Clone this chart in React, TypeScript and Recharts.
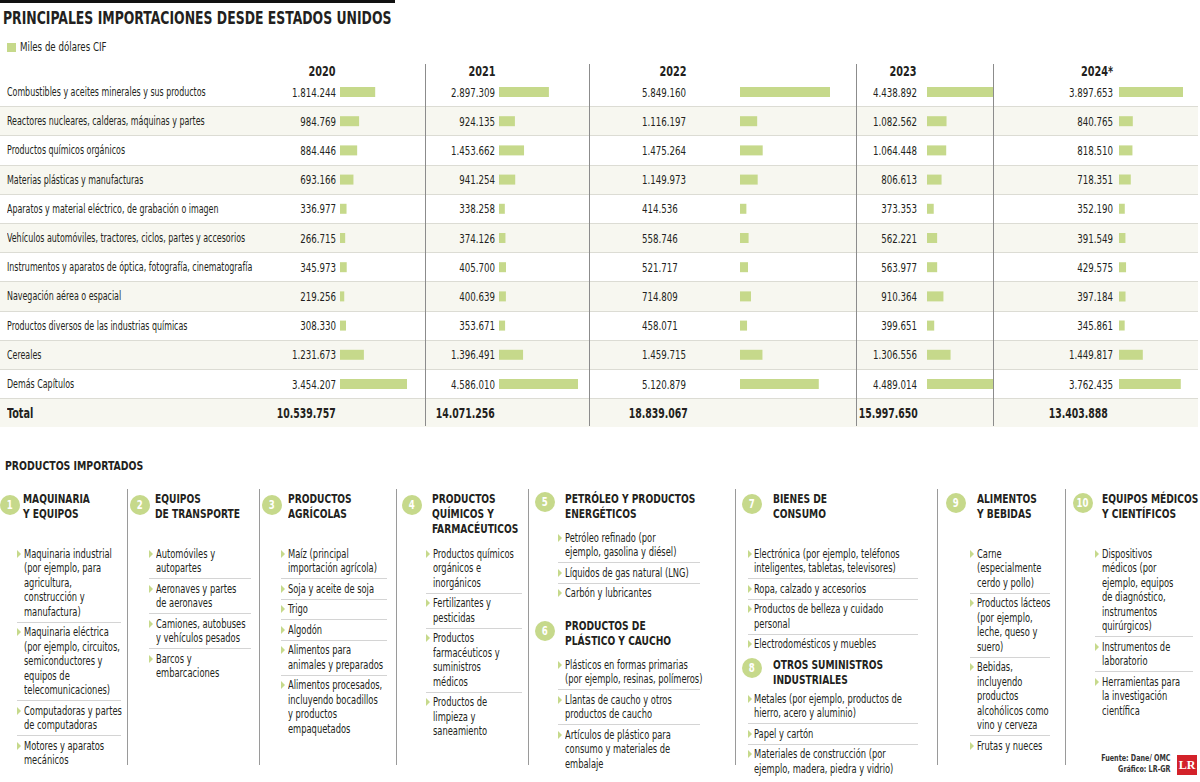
import React from "react"
import { Bar, BarChart, XAxis, YAxis, LabelList } from "recharts"

const FONT = "'Liberation Sans Narrow', 'DejaVu Sans Condensed', sans-serif"
const GREEN = "#c6d98b"
const INK = "#231f20"
const SX = 0.77 // squeeze to mimic the condensed face of the original

// table data (miles de dólares CIF)
const rowNames = [
  "Combustibles y aceites minerales y sus productos",
  "Reactores nucleares, calderas, máquinas y partes",
  "Productos químicos orgánicos",
  "Materias plásticas y manufacturas",
  "Aparatos y material eléctrico, de grabación o imagen",
  "Vehículos automóviles, tractores, ciclos, partes y accesorios",
  "Instrumentos y aparatos de óptica, fotografía, cinematografía",
  "Navegación aérea o espacial",
  "Productos diversos de las industrias químicas",
  "Cereales",
  "Demás Capítulos",
]
const years = ["2020", "2021", "2022", "2023", "2024*"]
const v2020 = [1814244, 984769, 884446, 693166, 336977, 266715, 345973, 219256, 308330, 1231673, 3454207]
const v2021 = [2897309, 924135, 1453662, 941254, 338258, 374126, 405700, 400639, 353671, 1396491, 4586010]
const v2022 = [5849160, 1116197, 1475264, 1149973, 414536, 558746, 521717, 714809, 458071, 1459715, 5120879]
const v2023 = [4438892, 1082562, 1064448, 806613, 373353, 562221, 563977, 910364, 399651, 1306556, 4489014]
const v2024 = [3897653, 840765, 818510, 718351, 352190, 391549, 429575, 397184, 345861, 1449817, 3762435]
const totals = [10539757, 14071256, 18839067, 15997650, 13403888]
const series = [v2020, v2021, v2022, v2023, v2024]

// productos importados
const groupNums = [1, 2, 3, 4, 5, 6, 7, 8, 9, 10]
const groupTitles = [
  "MAQUINARIA\nY EQUIPOS",
  "EQUIPOS\nDE TRANSPORTE",
  "PRODUCTOS\nAGRÍCOLAS",
  "PRODUCTOS\nQUÍMICOS Y\nFARMACÉUTICOS",
  "PETRÓLEO Y PRODUCTOS\nENERGÉTICOS",
  "PRODUCTOS DE\nPLÁSTICO Y CAUCHO",
  "BIENES DE\nCONSUMO",
  "OTROS SUMINISTROS\nINDUSTRIALES",
  "ALIMENTOS\nY BEBIDAS",
  "EQUIPOS MÉDICOS\nY CIENTÍFICOS",
]
const groupItems = [
  [
    "Maquinaria industrial\n(por ejemplo, para\nagricultura,\nconstrucción y\nmanufactura)",
    "Maquinaria eléctrica\n(por ejemplo, circuitos,\nsemiconductores y\nequipos de\ntelecomunicaciones)",
    "Computadoras y partes\nde computadoras",
    "Motores y aparatos\nmecánicos",
  ],
  ["Automóviles y\nautopartes", "Aeronaves y partes\nde aeronaves", "Camiones, autobuses\ny vehículos pesados", "Barcos y\nembarcaciones"],
  [
    "Maíz (principal\nimportación agrícola)",
    "Soja y aceite de soja",
    "Trigo",
    "Algodón",
    "Alimentos para\nanimales y preparados",
    "Alimentos procesados,\nincluyendo bocadillos\ny productos\nempaquetados",
  ],
  [
    "Productos químicos\norgánicos e\ninorgánicos",
    "Fertilizantes y\npesticidas",
    "Productos\nfarmacéuticos y\nsuministros\nmédicos",
    "Productos de\nlimpieza y\nsaneamiento",
  ],
  ["Petróleo refinado (por\nejemplo, gasolina y diésel)", "Líquidos de gas natural (LNG)", "Carbón y lubricantes"],
  [
    "Plásticos en formas primarias\n(por ejemplo, resinas, polímeros)",
    "Llantas de caucho y otros\nproductos de caucho",
    "Artículos de plástico para\nconsumo y materiales de\nembalaje",
  ],
  [
    "Electrónica (por ejemplo, teléfonos\ninteligentes, tabletas, televisores)",
    "Ropa, calzado y accesorios",
    "Productos de belleza y cuidado\npersonal",
    "Electrodomésticos y muebles",
  ],
  [
    "Metales (por ejemplo, productos de\nhierro, acero y aluminio)",
    "Papel y cartón",
    "Materiales de construcción (por\nejemplo, madera, piedra y vidrio)",
  ],
  [
    "Carne\n(especialmente\ncerdo y pollo)",
    "Productos lácteos\n(por ejemplo,\nleche, queso y\nsuero)",
    "Bebidas,\nincluyendo\nproductos\nalcohólicos como\nvino y cerveza",
    "Frutas y nueces",
  ],
  [
    "Dispositivos\nmédicos (por\nejemplo, equipos\nde diagnóstico,\ninstrumentos\nquirúrgicos)",
    "Instrumentos de\nlaboratorio",
    "Herramientas para\nla investigación\ncientífica",
  ],
]

// layout
const TOP = 77
const ROW_H = 29.2
const colLayout = [
  { left: 230, width: 195, barX: 340, plotW: 67, gap: 4, labelStart: 0, head: 322, totalEnd: 336 },
  { left: 425, width: 164, barX: 499, plotW: 79, gap: 4, labelStart: 0, head: 482, totalEnd: 495 },
  { left: 589, width: 267, barX: 740, plotW: 90, gap: 0, labelStart: 642, head: 673, totalEnd: 688 },
  { left: 856, width: 137, barX: 927, plotW: 81, gap: 10, labelStart: 0, head: 903, totalEnd: 918 },
  { left: 993, width: 205, barX: 1119, plotW: 64, gap: 6, labelStart: 0, head: 1097, totalEnd: 1108 },
]
const groupLayout = [
  { cx: 10, cy: 505, tx: 23, ty: 491, lx: 17, ly: 544, lw: 104 },
  { cx: 140, cy: 505, tx: 155, ty: 491, lx: 149, ly: 544, lw: 102 },
  { cx: 272, cy: 505, tx: 288, ty: 491, lx: 281, ly: 544, lw: 106 },
  { cx: 412, cy: 505, tx: 432, ty: 491, lx: 426, ly: 544, lw: 96 },
  { cx: 545, cy: 502, tx: 565, ty: 491, lx: 558, ly: 528, lw: 142 },
  { cx: 545, cy: 631, tx: 565, ty: 618, lx: 558, ly: 655, lw: 142 },
  { cx: 752, cy: 504, tx: 773, ty: 491, lx: 748, ly: 544, lw: 170 },
  { cx: 752, cy: 668, tx: 773, ty: 657, lx: 748, ly: 689, lw: 170 },
  { cx: 956, cy: 503, tx: 977, ty: 491, lx: 970, ly: 544, lw: 80 },
  { cx: 1083, cy: 503, tx: 1102, ty: 491, lx: 1095, ly: 544, lw: 98 },
]
const dividersX = [127, 259, 396, 528, 735, 937, 1065]

const fmt = (n: number) => String(n).replace(/\B(?=(\d{3})+(?!\d))/g, ".")

function Sq({ children, origin = "left", s = SX }: { children: React.ReactNode; origin?: string; s?: number }) {
  return (
    <span style={{ display: "inline-block", transform: `scaleX(${s})`, transformOrigin: origin, whiteSpace: "pre" }}>
      {children}
    </span>
  )
}

function YearChart({ idx }: { idx: number }) {
  const c = colLayout[idx]
  const data = rowNames.map((name, i) => ({ name, value: series[idx][i] }))
  const ml = c.barX - c.left
  return (
    <div style={{ position: "absolute", left: c.left, top: TOP }}>
      <BarChart
        width={c.width}
        height={ROW_H * rowNames.length}
        data={data}
        layout="vertical"
        margin={{ top: 0, bottom: 0, left: ml, right: c.width - ml - c.plotW }}
      >
        <XAxis type="number" hide domain={[0, "dataMax"]} />
        <YAxis type="category" dataKey="name" hide />
        <Bar dataKey="value" fill={GREEN} barSize={10} isAnimationActive={false}>
          <LabelList
            dataKey="value"
            content={(p: any) => {
              const tx = c.labelStart ? c.labelStart - c.left : p.x - c.gap
              const ty = p.y + p.height / 2
              return (
                <text
                  transform={`translate(${tx} ${ty}) scale(${SX} 1)`}
                  x={0}
                  y={0}
                  dy="0.36em"
                  textAnchor={c.labelStart ? "start" : "end"}
                  fontFamily={FONT}
                  fontSize={12.5}
                  fill={INK}
                >
                  {fmt(p.value)}
                </text>
              )
            }}
          />
        </Bar>
      </BarChart>
    </div>
  )
}

const abs = (s: React.CSSProperties): React.CSSProperties => ({ position: "absolute", ...s })

export default function App() {
  const totalTop = TOP + ROW_H * rowNames.length
  return (
    <div
      style={{
        position: "absolute",
        left: 0,
        top: 0,
        width: 1200,
        height: 782,
        background: "#fff",
        fontFamily: FONT,
        color: INK,
        overflow: "hidden",
      }}
    >
      <div style={abs({ left: 0, top: 0, width: 395, height: 3, background: "#111" })} />
      <div style={abs({ left: 3, top: 8, fontSize: 17.5, fontWeight: 700, lineHeight: "20px", whiteSpace: "nowrap" })}>
        <Sq s={0.79}>PRINCIPALES IMPORTACIONES DESDE ESTADOS UNIDOS</Sq>
      </div>
      <div style={abs({ left: 7, top: 43, width: 9, height: 9, background: GREEN })} />
      <div style={abs({ left: 20, top: 40, fontSize: 12.5, lineHeight: "14px" })}>
        <Sq>Miles de dólares CIF</Sq>
      </div>

      {/* row shading + rules */}
      {[...rowNames, "Total"].map((_, i) => (
        <div
          key={"r" + i}
          style={abs({
            left: 0,
            top: TOP + i * ROW_H,
            width: 1198,
            height: ROW_H,
            background: i % 2 === 1 ? "#f7f7f0" : "transparent",
            borderTop: i > 0 ? "1px solid #dcdcd4" : "none",
            boxSizing: "border-box",
          })}
        />
      ))}
      {colLayout.slice(1).map((c, i) => (
        <div key={"v" + i} style={abs({ left: c.left, top: 64, width: 1, height: 362, background: "#8c8c8c" })} />
      ))}

      {years.map((y, i) => (
        <div
          key={"y" + i}
          style={abs({ left: colLayout[i].head - 40, width: 80, top: 63, textAlign: "center", fontSize: 13.5, fontWeight: 700, lineHeight: "16px" })}
        >
          <Sq origin="center" s={0.8}>{y}</Sq>
        </div>
      ))}
      {rowNames.map((n, i) => (
        <div key={"n" + i} style={abs({ left: 7, top: TOP + i * ROW_H + 7, fontSize: 12.5, lineHeight: "16px", whiteSpace: "nowrap" })}>
          <Sq s={0.705}>{n}</Sq>
        </div>
      ))}
      <div style={abs({ left: 7, top: totalTop + 7, fontSize: 13.5, fontWeight: 700, lineHeight: "16px" })}>
        <Sq s={0.8}>Total</Sq>
      </div>
      {totals.map((t, i) => (
        <div
          key={"t" + i}
          style={abs({ left: colLayout[i].totalEnd - 100, width: 100, top: totalTop + 7, textAlign: "right", fontSize: 13.5, fontWeight: 700, lineHeight: "16px" })}
        >
          <Sq origin="right" s={0.77}>{fmt(t)}</Sq>
        </div>
      ))}

      {years.map((_, i) => (
        <YearChart key={"c" + i} idx={i} />
      ))}

      {/* productos importados */}
      <div style={abs({ left: 5, top: 458, fontSize: 13, fontWeight: 700, lineHeight: "16px" })}>
        <Sq s={0.8}>PRODUCTOS IMPORTADOS</Sq>
      </div>
      {dividersX.map((x, i) => (
        <div key={"d" + i} style={abs({ left: x, top: 489, width: 1, height: 276, background: "#9a9a9a" })} />
      ))}
      {groupNums.map((num, g) => {
        const L = groupLayout[g]
        const items = groupItems[g]
        return (
          <React.Fragment key={"g" + g}>
            <div
              style={abs({
                left: L.cx - 10,
                top: L.cy - 10,
                width: 20,
                height: 20,
                borderRadius: 10,
                background: GREEN,
                color: "#fff",
                fontSize: 12,
                fontWeight: 700,
                lineHeight: "20px",
                textAlign: "center",
              })}
            >
              <Sq origin="center" s={0.8}>{num}</Sq>
            </div>
            <div style={abs({ left: L.tx, top: L.ty, fontSize: 13, fontWeight: 700, lineHeight: "15px" })}>
              <Sq s={0.78}>{groupTitles[g]}</Sq>
            </div>
            <div style={abs({ left: L.lx, top: L.ly, width: L.lw })}>
              {items.map((it, k) => (
                <div
                  key={k}
                  style={{
                    position: "relative",
                    padding: "2.5px 0 2.5px " + (L.tx - L.lx > 10 ? 6 : 7) + "px",
                    borderBottom: k < items.length - 1 ? "1px solid #d4d4d4" : "none",
                    fontSize: 12.5,
                    lineHeight: "14.5px",
                  }}
                >
                  <div
                    style={abs({
                      left: 0,
                      top: 5.5,
                      width: 0,
                      height: 0,
                      borderTop: "4px solid transparent",
                      borderBottom: "4px solid transparent",
                      borderLeft: "4px solid " + GREEN,
                    })}
                  />
                  <Sq s={0.74}>{it}</Sq>
                </div>
              ))}
            </div>
          </React.Fragment>
        )
      })}

      <div style={abs({ left: 1070, top: 752, width: 100, textAlign: "right", fontSize: 9.5, fontWeight: 700, lineHeight: "11px", color: "#333" })}>
        <Sq origin="right" s={0.75}>{"Fuente: Dane/ OMC\nGráfico: LR-GR"}</Sq>
      </div>
      <div
        style={abs({
          left: 1177,
          top: 755,
          width: 20,
          height: 20,
          background: "#d3222a",
          color: "#fff",
          fontFamily: "'Liberation Serif', serif",
          fontWeight: 700,
          fontSize: 12,
          lineHeight: "20px",
          textAlign: "center",
        })}
      >
        LR
      </div>
    </div>
  )
}
